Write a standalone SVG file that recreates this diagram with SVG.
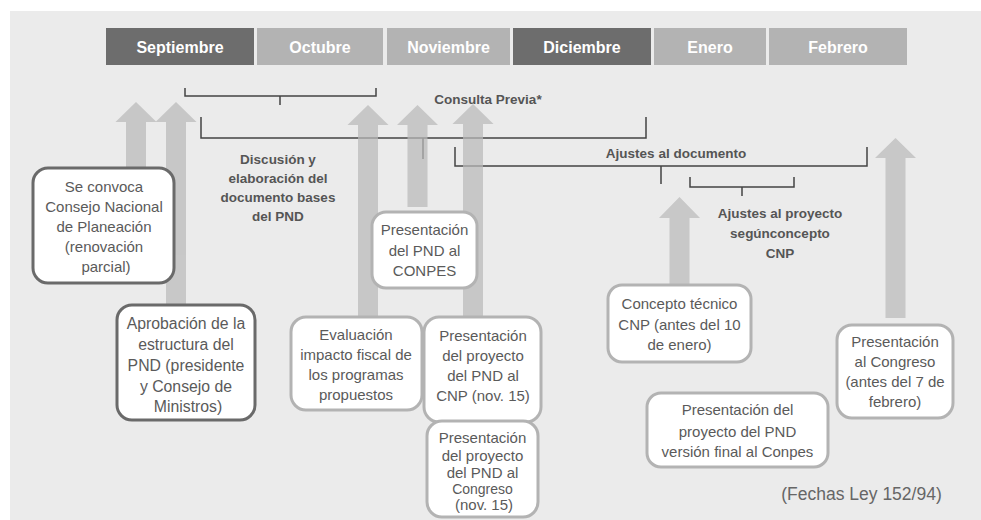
<svg xmlns="http://www.w3.org/2000/svg" width="981" height="520" viewBox="0 0 981 520">
<style>
.month{stroke:none}
.dk{fill:#6d6d6d}
.lt{fill:#b3b3b3}
.mt{font-family:"Liberation Sans",Arial,sans-serif;font-weight:bold;font-size:16px;fill:#ffffff;text-anchor:middle}
.br{fill:none;stroke:#444444;stroke-width:1.5}
.lbl{font-family:"Liberation Sans",Arial,sans-serif;font-weight:bold;font-size:13.5px;fill:#555555;text-anchor:middle}
.arr{fill:#bababa}
.boxd{fill:#ffffff;stroke:#6a6a6a;stroke-width:3}
.boxl{fill:#ffffff;stroke:#b3b3b3;stroke-width:3}
.bt{font-family:"Liberation Sans",Arial,sans-serif;font-size:15px;fill:#5a5a5a;text-anchor:middle}
.bts{font-family:"Liberation Sans",Arial,sans-serif;font-size:14px;fill:#5a5a5a;text-anchor:middle}
</style>
<rect x="0" y="0" width="981" height="520" fill="#ffffff"/>
<rect x="10" y="11" width="971" height="509" fill="#ebebeb"/>

<g id="months">
<rect class="month dk" x="106" y="28" width="148" height="37"/>
<rect class="month lt" x="257" y="28" width="126" height="37"/>
<rect class="month lt" x="387" y="28" width="123" height="37"/>
<rect class="month dk" x="513" y="28" width="138" height="37"/>
<rect class="month lt" x="654" y="28" width="112" height="37"/>
<rect class="month lt" x="769" y="28" width="138" height="37"/>
<text class="mt" x="180" y="53">Septiembre</text>
<text class="mt" x="320" y="53">Octubre</text>
<text class="mt" x="448.5" y="53">Noviembre</text>
<text class="mt" x="582" y="53">Diciembre</text>
<text class="mt" x="710" y="53">Enero</text>
<text class="mt" x="838" y="53">Febrero</text>
</g>

<g id="connectors">
<path class="br" d="M185,88 V96 H376 V88 M280,96 V105"/>
<path class="br" d="M201,117 V138 H646 V117 M423,138 V159"/>
<path class="br" d="M455,147 V166 H867 V147 M661,166 V184"/>
<path class="br" d="M690,177 V187 H794 V177 M742,187 V196"/>
<g opacity="0.72">
<path class="arr" d="M136,102 L156.5,122 L146,122 L146,172 L126,172 L126,122 L115.5,122 Z"/>
<path class="arr" d="M176,102 L196.5,122 L186,122 L186,307 L166,307 L166,122 L155.5,122 Z"/>
<path class="arr" d="M368,105 L388.5,125 L378,125 L378,319 L358,319 L358,125 L347.5,125 Z"/>
<path class="arr" d="M417.5,105 L438,125 L427.5,125 L427.5,207 L407.5,207 L407.5,125 L397,125 Z"/>
<path class="arr" d="M473,104 L493.5,124 L483,124 L483,319 L463,319 L463,124 L452.5,124 Z"/>
<path class="arr" d="M679.5,197 L700,218 L689.5,218 L689.5,287 L669.5,287 L669.5,218 L659,218 Z"/>
<path class="arr" d="M895.5,138 L916,158 L905.5,158 L905.5,318 L885.5,318 L885.5,158 L875,158 Z"/>
</g>
</g>

<g id="labels">
<text class="lbl" x="488" y="104">Consulta Previa*</text>
<text class="lbl" x="278" y="164">Discusión y</text>
<text class="lbl" x="278" y="183">elaboración del</text>
<text class="lbl" x="278" y="202">documento bases</text>
<text class="lbl" x="278" y="221">del PND</text>
<text class="lbl" x="676" y="158">Ajustes al documento</text>
<text class="lbl" x="780" y="218">Ajustes al proyecto</text>
<text class="lbl" x="780" y="238">segúnconcepto</text>
<text class="lbl" x="780" y="258">CNP</text>
</g>

<g id="n1">
<rect class="boxd" x="33" y="168" width="141" height="115" rx="15"/>
<text class="bt" x="104" y="192">Se convoca</text>
<text class="bt" x="104" y="212">Consejo Nacional</text>
<text class="bt" x="104" y="232">de Planeación</text>
<text class="bt" x="104" y="252">(renovación</text>
<text class="bt" x="106" y="272">parcial)</text>
</g>
<g id="n2">
<rect class="boxd" x="117" y="305" width="138" height="115" rx="15"/>
<text class="bt" x="186" y="329" style="font-size:15.8px">Aprobación de la</text>
<text class="bt" x="186" y="350" style="font-size:15.8px">estructura del</text>
<text class="bt" x="186" y="371" style="font-size:15.8px">PND (presidente</text>
<text class="bt" x="186" y="392" style="font-size:15.8px">y Consejo de</text>
<text class="bt" x="188" y="412" style="font-size:15.8px">Ministros)</text>
</g>
<g id="n3">
<rect class="boxl" x="291" y="317" width="131" height="93" rx="15"/>
<text class="bt" x="356" y="340">Evaluación</text>
<text class="bt" x="356" y="360">impacto fiscal de</text>
<text class="bt" x="356" y="380">los programas</text>
<text class="bt" x="356" y="400">propuestos</text>
</g>
<g id="n4">
<rect class="boxl" x="372" y="212" width="105" height="76" rx="14"/>
<text class="bt" x="424.5" y="235">Presentación</text>
<text class="bt" x="424.5" y="256">del PND al</text>
<text class="bt" x="424.5" y="276">CONPES</text>
</g>
<g id="n5">
<rect class="boxl" x="424" y="317" width="117" height="105" rx="15"/>
<text class="bt" x="483" y="341">Presentación</text>
<text class="bt" x="483" y="361">del proyecto</text>
<text class="bt" x="483" y="381">del PND al</text>
<text class="bt" x="483" y="401">CNP (nov. 15)</text>
</g>
<g id="n6">
<rect class="boxl" x="427" y="421" width="111" height="96" rx="15"/>
<text class="bt" x="482.5" y="443">Presentación</text>
<text class="bt" x="482.5" y="461">del proyecto</text>
<text class="bt" x="482.5" y="478">del PND al</text>
<text class="bts" x="482.5" y="494">Congreso</text>
<text class="bt" x="484" y="510">(nov. 15)</text>
</g>
<g id="n7">
<rect class="boxl" x="608" y="285" width="143" height="77" rx="14"/>
<text class="bt" x="679.5" y="309">Concepto técnico</text>
<text class="bt" x="679.5" y="330">CNP (antes del 10</text>
<text class="bt" x="679.5" y="350">de enero)</text>
</g>
<g id="n8">
<rect class="boxl" x="647" y="393" width="181" height="74" rx="14"/>
<text class="bt" x="737.5" y="415">Presentación del</text>
<text class="bt" x="737.5" y="437">proyecto del PND</text>
<text class="bt" x="737.5" y="457">versión final al Conpes</text>
</g>
<g id="n9">
<rect class="boxl" x="837" y="325" width="116" height="93" rx="15"/>
<text class="bt" x="895" y="347">Presentación</text>
<text class="bt" x="895" y="367">al Congreso</text>
<text class="bt" x="895" y="387">(antes del 7 de</text>
<text class="bt" x="895" y="407">febrero)</text>
</g>
<text x="861.5" y="500" style="font-family:'Liberation Sans',Arial,sans-serif;font-size:17.5px;fill:#666666;text-anchor:middle">(Fechas Ley 152/94)</text>
</svg>
